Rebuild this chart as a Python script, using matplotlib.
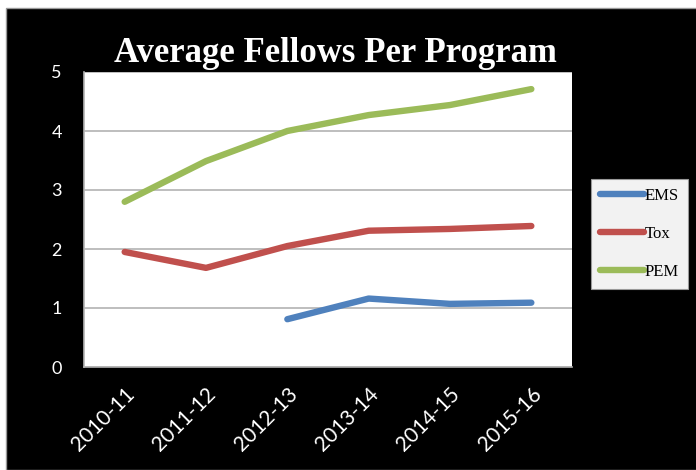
import matplotlib
matplotlib.use("Agg")
import matplotlib.pyplot as plt
import numpy as np
from matplotlib.patches import Rectangle

# data
seasons = ["2010-11", "2011-12", "2012-13", "2013-14", "2014-15", "2015-16"]
ems = [np.nan, np.nan, 0.81, 1.16, 1.07, 1.09]
tox = [1.95, 1.68, 2.05, 2.31, 2.34, 2.39]
pem = [2.80, 3.49, 4.00, 4.27, 4.44, 4.71]

fig = plt.figure(figsize=(6.96, 4.70), dpi=100, facecolor="white")
W, H = 696.0, 470.0
# black backdrop, thin white margin on top and left
fig.patches.append(Rectangle((6 / W, 0), 1, (H - 8) / H, transform=fig.transFigure,
                             facecolor="black", edgecolor="#999999", lw=1, zorder=-1))

ax = fig.add_axes([84 / W, (H - 367) / H, (572 - 84) / W, (367 - 72) / H])
ax.set_facecolor("white")

x = np.arange(len(seasons)) + 0.5
for vals, col, name in [(ems, "#4F81BD", "EMS"), (tox, "#C0504D", "Tox"), (pem, "#9BBB59", "PEM")]:
    ax.plot(x, vals, color=col, lw=4.6, solid_capstyle="round", label=name)

ax.set_xlim(0, len(seasons))
ax.set_ylim(0, 5)
ax.set_yticks(range(6))
ax.set_xticks(x)
ax.set_xticklabels(seasons, rotation=45, ha="right", rotation_mode="anchor")
ax.grid(axis="y", color="#b3b3b3", lw=1.2)
ax.set_axisbelow(True)
for side in ["top", "right"]:
    ax.spines[side].set_visible(False)
for side in ["left", "bottom"]:
    ax.spines[side].set_color("#b3b3b3")
    ax.spines[side].set_linewidth(1.2)
ax.tick_params(length=0, colors="white")
ax.tick_params(axis="y", labelsize=13, pad=16)
ax.tick_params(axis="x", labelsize=15, pad=12)
for lbl in ax.get_xticklabels() + ax.get_yticklabels():
    lbl.set_family("Lato")

fig.text(335 / W, 1 - 62 / H, "Average Fellows Per Program", color="white",
         fontsize=25, fontweight="bold", family="Liberation Serif", ha="center", va="baseline")

leg = ax.legend(loc="upper left", bbox_to_anchor=(591 / W, 1 - 179 / H),
                bbox_transform=fig.transFigure, frameon=True, fancybox=False,
                facecolor="#f2f2f2", edgecolor="#999999", framealpha=1,
                prop={"family": "Liberation Serif", "size": 12},
                handlelength=2.6, handletextpad=0.05, labelspacing=1.3,
                borderpad=0.55, borderaxespad=0)
leg.get_frame().set_linewidth(0.8)

fig.savefig("out.png", dpi=100, facecolor=fig.get_facecolor())
